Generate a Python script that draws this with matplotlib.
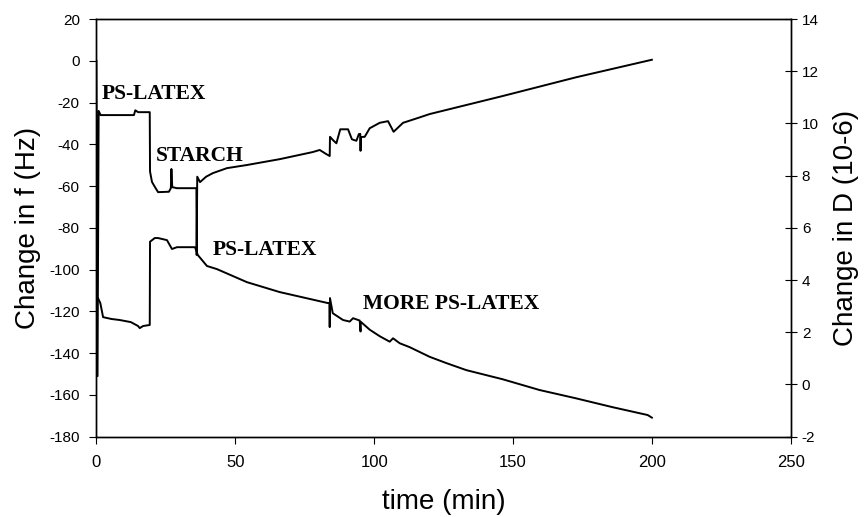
import matplotlib.pyplot as plt

# Frequency shift (left axis)
t_f = [0, 0.4, 0.8, 1.5, 5, 10, 13.5, 14, 15, 19.2, 19.3, 20, 21, 22.2, 26.1, 26.8,
       27.0, 27.3, 29, 36.0, 36.1, 36.3, 37.3, 39.5, 41.9, 47, 54.2, 66, 77.9, 80.4,
       82.8, 84, 84.1, 85.2, 86.4, 87.8, 90.6, 92, 93.6, 94.5, 95.0, 95.1, 95.2, 96.6,
       98.4, 102, 105, 107, 110.4, 116.4, 120, 146.2, 172.7, 200]
f_hz = [0, -151, -24, -26, -26, -26, -26, -23.7, -24.6, -24.6, -53, -58, -60.3, -62.9, -62.7, -61,
        -51.8, -60.5, -61, -61, -93, -55.5, -58.1, -55.5, -53.8, -51.4, -49.9, -47.1, -43.7, -42.7,
        -44.7, -45.6, -36.4, -38, -39.5, -32.8, -32.8, -37.6, -38.3, -35.1, -35, -43.1, -36.5, -36.4,
        -32.3, -29.7, -28.9, -34, -29.7, -27.1, -25.5, -16.9, -7.9, 0.5]

# Dissipation shift (right axis)
t_d = [0.6, 1.4, 2.4, 5.4, 8.4, 12.4, 15, 15.6, 16.8, 19.2, 19.3, 21, 22.2, 25.4, 27.2, 29,
       35.5, 36.5, 39.8, 43.4, 54.2, 66, 83.3, 83.9, 84.0, 84.1, 85.1, 88.8, 91.2, 92.4, 94.8,
       95.1, 95.2, 98.4, 102, 105.6, 106.8, 109.2, 112.8, 120, 126, 133.2, 146.3, 159.5, 172.7,
       185.9, 198.5, 200]
d_val = [3.3, 3.12, 2.58, 2.51, 2.47, 2.39, 2.24, 2.16, 2.24, 2.28, 5.47, 5.61, 5.61, 5.53, 5.19, 5.26,
         5.26, 4.96, 4.54, 4.42, 3.92, 3.54, 3.12, 3.12, 2.2, 3.31, 2.73, 2.47, 2.41, 2.54, 2.45,
         2.03, 2.4, 2.1, 1.85, 1.64, 1.77, 1.58, 1.43, 1.06, 0.82, 0.55, 0.2, -0.21, -0.53,
         -0.87, -1.17, -1.27]

# Injection labels
etiquetas = ['PS-LATEX', 'STARCH', 'PS-LATEX', 'MORE PS-LATEX']
etiq_t = [1.9, 21.4, 42, 96]
etiq_f = [-15.9, -45.4, -90.6, -116.4]

plt.rcParams['font.family'] = 'Liberation Sans'
plt.rcParams['axes.unicode_minus'] = False

fig = plt.figure(figsize=(8.64, 5.17), dpi=100)
ax = fig.add_axes([0.1116, 0.1553, 0.8036, 0.8079])
ax2 = ax.twinx()

ax.plot(t_f, f_hz, color='black', lw=1.4)
ax2.plot(t_d, d_val, color='black', lw=1.4)

ax.set_xlim(0, 250)
ax.set_ylim(-180, 20)
ax2.set_ylim(-2, 14)
ax.set_xticks(range(0, 251, 50))
ax.set_yticks(range(-180, 21, 20))
ax2.set_yticks(range(-2, 15, 2))

ax.tick_params(axis='x', direction='out', length=5, labelsize=12, pad=8)
ax.tick_params(axis='y', direction='out', length=5, labelsize=11, pad=7)
ax2.tick_params(axis='y', direction='inout', length=8, labelsize=11, pad=4)

for a in (ax, ax2):
    for s in a.spines.values():
        s.set_linewidth(1.0)

ax.set_xlabel('time (min)', fontsize=20, labelpad=14)
ax.set_ylabel('Change in f (Hz)', fontsize=20, labelpad=6)
ax2.set_ylabel('Change in D (10-6)', fontsize=20, labelpad=10)

for txt, x, y in zip(etiquetas, etiq_t, etiq_f):
    ax.text(x, y, txt, fontsize=15.5, fontweight='bold', family='Liberation Serif',
            ha='left', va='center')

fig.savefig('out.png', dpi=100)
